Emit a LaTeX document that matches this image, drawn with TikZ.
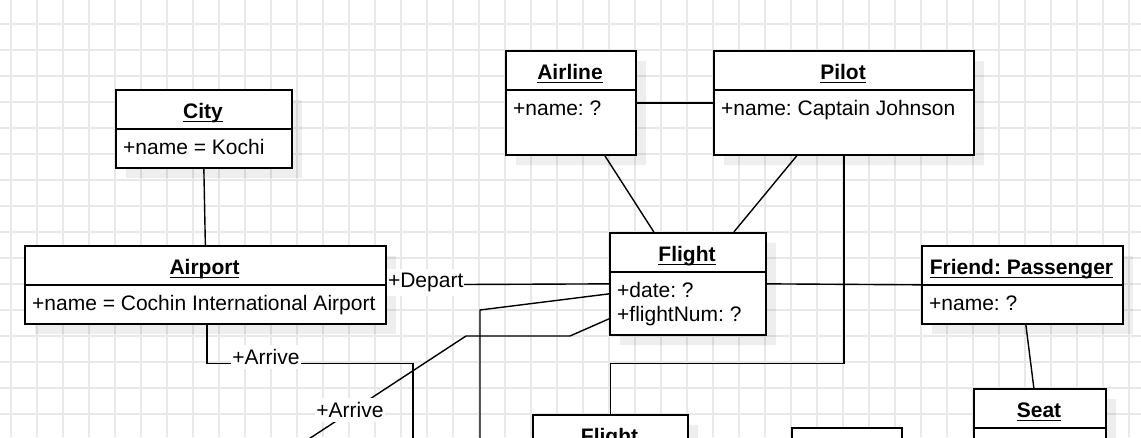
\documentclass[tikz,border=0pt]{standalone}
\usepackage{fontspec}
\setmainfont{Liberation Sans}
\frenchspacing
\definecolor{gridc}{RGB}{232,232,232}
\newcommand{\myul}[1]{\setbox0\hbox{#1}\rlap{\rule[-4pt]{\wd0}{1.4pt}}\box0}
\tikzset{
  gridl/.style={draw=gridc, line width=1.2pt},
  shadowfill/.style={fill=black, fill opacity=0.065, draw=none},
  box/.style={draw=black, line width=1.7pt, fill=white, inner sep=0pt, anchor=north west},
  boxline/.style={draw=black, line width=1.7pt},
  conn/.style={draw=black, line width=1.4pt},
  txt/.style={inner sep=0pt, font=\fontsize{21}{24}\selectfont, text=black},
  ttl/.style={inner sep=0pt, font=\fontsize{21}{24}\selectfont\bfseries, text=black, anchor=base},
  attr/.style={txt, anchor=base west},
  lbl/.style={txt, fill=white, inner xsep=1pt, inner ysep=4pt, anchor=base}
}
\newcommand{\umlbox}[6]{%
  \fill[shadowfill] (#2+11,#3+11) rectangle ++(#4,#5);
  \node[box, minimum width=#4pt, minimum height=#5pt] (#1) at (#2,#3) {};
  \draw[boxline] (#2,#3+#6) -- ++(#4+2,0);
}
\begin{document}
\frenchspacing
\begin{tikzpicture}[x=1pt,y=-1pt]
\useasboundingbox (0,0) rectangle (1141,437);
\clip (0,0) rectangle (1141,437);
\fill[white] (0,0) rectangle (1141,437);
% grid
\foreach \i in {0,...,43} \draw[gridl] (11+26*\i,0) -- (11+26*\i,437);
\foreach \j in {0,...,16} \draw[gridl] (0,24+26*\j) -- (1141,24+26*\j);
% boxes
\umlbox{city}{115}{89}{176}{78}{40}
\umlbox{airport}{24}{245}{361}{78}{40}
\umlbox{airline}{505}{50}{130}{104}{40}
\umlbox{pilot}{713}{50}{260}{104}{40}
\umlbox{flight}{609}{232}{156}{102}{40}
\umlbox{friend}{921}{245}{201}{78}{40}
\umlbox{seat}{973}{388}{132}{80}{40}
\umlbox{flightb}{532}{414}{155}{80}{40}
\umlbox{boxc}{791}{427}{110}{80}{40}
% texts
\node[ttl] (cityT) at (203,118) {\myul{City}};
\node[attr] (cityA) at (123,154) {+name = Kochi};
\node[ttl] (airportT) at (204.5,274) {\myul{Airport}};
\node[attr] (airportA) at (32,310) {+name = Cochin International Airport};
\node[ttl] (airlineT) at (570,79) {\myul{Airline}};
\node[attr] (airlineA) at (513,115) {+name: ?};
\node[ttl] (pilotT) at (843,79) {\myul{Pilot}};
\node[attr] (pilotA) at (721,115) {+name: Captain Johnson};
\node[ttl] (flightT) at (687,261) {\myul{Flight}};
\node[attr] (flightA) at (617,297) {+date: ?};
\node[attr] (flightB) at (617,321) {+flightNum: ?};
\node[ttl] (friendT) at (1021.5,274) {\myul{Friend: Passenger}};
\node[attr] (friendA) at (929,310) {+name: ?};
\node[ttl] (seatT) at (1039,417) {\myul{Seat}};
\node[ttl] (flightbT) at (609.5,443) {\myul{Flight}};
% connectors
\coordinate (e1) at (480,450);
\coordinate (e2) at (292,450);
\coordinate (e3) at (413,450);
\draw[conn] (city.south) -- (airport.north);
\draw[conn] (airline.east) -- (pilot.west);
\draw[conn] ([xshift=34pt]airline.south) -- ([xshift=-34pt]flight.north);
\draw[conn] ([xshift=-47pt]pilot.south) -- ([xshift=46pt]flight.north);
\draw[conn] (pilot.south) -- ++(0,208) -| (flightb.north);
\draw[conn] ([xshift=3.5pt]friend.south) -- ([xshift=-6pt]seat.north);
\draw[conn] (flight.east) -- (friend.west);
\draw[conn] (airport.east) -- (flight.west);
\draw[conn] ([yshift=-10pt]flight.west) -- (480,310) -- (e1);
\draw[conn] ([yshift=-35pt]flight.west) -- (570,336) -- (466,336) -- (e2);
\draw[conn] ([xshift=1.5pt]airport.south) -- ++(0,39) -| (e3);
% labels
\node[lbl] (dep) at (425.7,287.5) {+Depart};
\node[lbl] (arr1) at (266,364.5) {+Arrive};
\node[lbl] (arr2) at (350,417.5) {+Arrive};
\end{tikzpicture}
\end{document}
